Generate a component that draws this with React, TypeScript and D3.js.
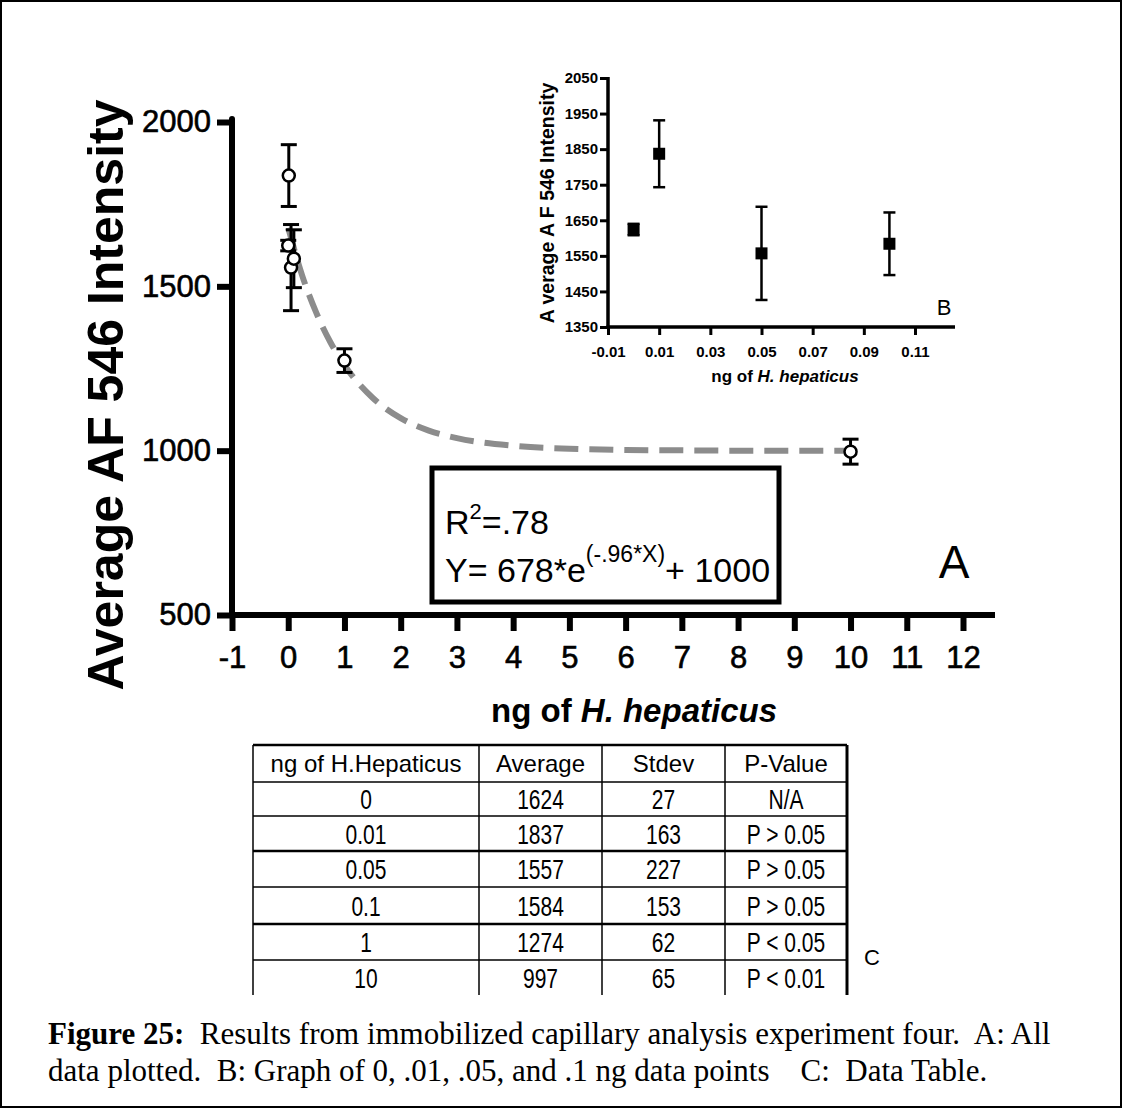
import React, { useEffect, useRef } from 'react';
import * as d3 from 'd3';

// table / data values
const doseLabels = ['0', '0.01', '0.05', '0.1', '1', '10'];
const doses = [0, 0.01, 0.05, 0.1, 1, 10];
const averages = [1624, 1837, 1557, 1584, 1274, 997];
const stdevs = [27, 163, 227, 153, 62, 65];
const pValues = ['N/A', 'P > 0.05', 'P > 0.05', 'P > 0.05', 'P < 0.05', 'P < 0.01'];
// half height of the plotted error bars
const errBars = [16, 94, 131, 88, 36, 38];

// fitted curve
const fitX = [0, 0.25, 0.5, 0.75, 1, 1.5, 2, 2.5, 3, 4, 5, 6, 7, 8, 10];
const fitY = [1678, 1532, 1419, 1330, 1260, 1161, 1099, 1061, 1038, 1015, 1006, 1002, 1001, 1000, 1000];

const mainXTicks = [-1, 0, 1, 2, 3, 4, 5, 6, 7, 8, 9, 10, 11, 12];
const mainYTicks = [500, 1000, 1500, 2000];
const insetXTicks = [-0.01, 0.01, 0.03, 0.05, 0.07, 0.09, 0.11];
const insetYTicks = [1350, 1450, 1550, 1650, 1750, 1850, 1950, 2050];

const tableHeader = ['ng of H.Hepaticus', 'Average', 'Stdev', 'P-Value'];

const SANS = '"Liberation Sans", Arial, sans-serif';
const SERIF = '"Liberation Serif", "Times New Roman", serif';

// plain hyphen for negatives, like the original
const hyphen = (f: (n: number) => string) => (d: any) => f(d).replace('\u2212', '-');

export default function App() {
  const ref = useRef<SVGSVGElement>(null);

  useEffect(() => {
    const svg = d3.select(ref.current);
    svg.selectAll('*').remove();

    svg.append('rect').attr('width', 1123).attr('height', 1108).attr('fill', '#fff');
    // outer frame
    svg.append('rect')
      .attr('x', 1).attr('y', 1).attr('width', 1120).attr('height', 1106)
      .attr('fill', 'none').attr('stroke', '#000').attr('stroke-width', 2);

    // ---------- main chart (A) ----------
    const x = d3.scaleLinear().domain([-1, 12]).range([232, 963]);
    const y = d3.scaleLinear().domain([500, 2000]).range([615, 122]);
    const main = svg.append('g');

    const gx = main.append('g').attr('transform', `translate(0,${y(500)})`)
      .call(d3.axisBottom(x).tickValues(mainXTicks).tickSize(16).tickPadding(15).tickFormat(hyphen(d3.format('d'))));
    gx.select('.domain').remove();
    gx.selectAll('line').attr('stroke', '#000').attr('stroke-width', 6);
    gx.selectAll('text').attr('font-size', 31).attr('font-family', SANS).attr('fill', '#000')
      .attr('stroke', '#000').attr('stroke-width', 0.6);

    const gy = main.append('g').attr('transform', `translate(${x(-1)},0)`)
      .call(d3.axisLeft(y).tickValues(mainYTicks).tickSize(15).tickPadding(6).tickFormat(d3.format('d')));
    gy.select('.domain').remove();
    gy.selectAll('line').attr('stroke', '#000').attr('stroke-width', 6);
    gy.selectAll('text').attr('font-size', 31).attr('font-family', SANS).attr('fill', '#000')
      .attr('stroke', '#000').attr('stroke-width', 0.6);

    main.append('line').attr('x1', x(-1) - 3).attr('x2', 995).attr('y1', y(500)).attr('y2', y(500))
      .attr('stroke', '#000').attr('stroke-width', 6);
    main.append('line').attr('x1', x(-1)).attr('x2', x(-1)).attr('y1', y(500)).attr('y2', y(2000) - 3)
      .attr('stroke', '#000').attr('stroke-width', 6).attr('stroke-linecap', 'round');

    // fit curve
    const fitLine = d3.line<number>().x((_, i) => x(fitX[i])).y(d => y(d)).curve(d3.curveMonotoneX);
    main.append('path').attr('d', fitLine(fitY))
      .attr('fill', 'none').attr('stroke', '#8c8c8c').attr('stroke-width', 6)
      .attr('stroke-dasharray', '24 11');

    // error bars + markers
    const eb = main.append('g').attr('stroke', '#000').attr('stroke-width', 3);
    doses.forEach((d, i) => {
      const cx = x(d);
      eb.append('line').attr('x1', cx).attr('x2', cx).attr('y1', y(averages[i] + errBars[i])).attr('y2', y(averages[i] - errBars[i]));
      [1, -1].forEach(s => {
        eb.append('line').attr('x1', cx - 8).attr('x2', cx + 8)
          .attr('y1', y(averages[i] + s * errBars[i])).attr('y2', y(averages[i] + s * errBars[i]));
      });
    });
    main.selectAll('circle.pt').data(doses).enter().append('circle')
      .attr('cx', d => x(d)).attr('cy', (_, i) => y(averages[i])).attr('r', 6)
      .attr('fill', '#fff').attr('stroke', '#000').attr('stroke-width', 2.5);

    // labels
    main.append('text').attr('transform', 'translate(123,395) rotate(-90)')
      .attr('text-anchor', 'middle').attr('font-family', SANS).attr('font-weight', 'bold').attr('font-size', 50)
      .text('Average AF 546 Intensity');
    const xl = main.append('text').attr('x', 634).attr('y', 722).attr('text-anchor', 'middle')
      .attr('font-family', SANS).attr('font-weight', 'bold').attr('font-size', 33);
    xl.append('tspan').text('ng of ');
    xl.append('tspan').attr('font-style', 'italic').text('H. hepaticus');

    main.append('text').attr('x', 954).attr('y', 578).attr('text-anchor', 'middle')
      .attr('font-family', SANS).attr('font-size', 46).text('A');

    // equation box
    main.append('rect').attr('x', 432).attr('y', 468).attr('width', 347).attr('height', 134)
      .attr('fill', '#fff').attr('stroke', '#000').attr('stroke-width', 5);
    const r2 = main.append('text').attr('x', 445).attr('y', 534).attr('font-family', SANS).attr('font-size', 34);
    r2.append('tspan').text('R');
    r2.append('tspan').attr('font-size', 22).attr('dy', -15).text('2');
    r2.append('tspan').attr('dy', 15).text('=.78');
    const eq = main.append('text').attr('x', 445).attr('y', 582).attr('font-family', SANS).attr('font-size', 34);
    eq.append('tspan').text('Y= 678*e');
    eq.append('tspan').attr('font-size', 23).attr('dy', -20).text('(-.96*X)');
    eq.append('tspan').attr('dy', 20).text('+ 1000');

    // ---------- inset chart (B) ----------
    const ix = d3.scaleLinear().domain([-0.01, 0.11]).range([608, 915]);
    const iy = d3.scaleLinear().domain([1350, 2050]).range([327, 78]);
    const inset = svg.append('g');

    const igx = inset.append('g').attr('transform', `translate(0,${iy(1350)})`)
      .call(d3.axisBottom(ix).tickValues(insetXTicks).tickSize(8).tickPadding(11).tickFormat(hyphen(d3.format('.2f'))));
    igx.select('.domain').remove();
    igx.selectAll('line').attr('stroke', '#000').attr('stroke-width', 3);
    igx.selectAll('text').attr('font-size', 15).attr('font-weight', 'bold').attr('font-family', SANS).attr('fill', '#000');

    const igy = inset.append('g').attr('transform', `translate(${ix(-0.01)},0)`)
      .call(d3.axisLeft(iy).tickValues(insetYTicks).tickSize(8).tickPadding(2).tickFormat(d3.format('d')));
    igy.select('.domain').remove();
    igy.selectAll('line').attr('stroke', '#000').attr('stroke-width', 3);
    igy.selectAll('text').attr('font-size', 15).attr('font-weight', 'bold').attr('font-family', SANS).attr('fill', '#000');

    inset.append('line').attr('x1', ix(-0.01) - 1.5).attr('x2', 955).attr('y1', iy(1350)).attr('y2', iy(1350))
      .attr('stroke', '#000').attr('stroke-width', 3.5);
    inset.append('line').attr('x1', ix(-0.01)).attr('x2', ix(-0.01)).attr('y1', iy(1350)).attr('y2', iy(2050) - 1)
      .attr('stroke', '#000').attr('stroke-width', 3.5);

    const ieb = inset.append('g').attr('stroke', '#000').attr('stroke-width', 2.5);
    doses.slice(0, 4).forEach((d, i) => {
      const cx = ix(d);
      ieb.append('line').attr('x1', cx).attr('x2', cx).attr('y1', iy(averages[i] + errBars[i])).attr('y2', iy(averages[i] - errBars[i]));
      [1, -1].forEach(s => {
        ieb.append('line').attr('x1', cx - 6).attr('x2', cx + 6)
          .attr('y1', iy(averages[i] + s * errBars[i])).attr('y2', iy(averages[i] + s * errBars[i]));
      });
    });
    inset.selectAll('rect.pt').data(doses.slice(0, 4)).enter().append('rect')
      .attr('x', d => ix(d) - 6).attr('y', (_, i) => iy(averages[i]) - 6)
      .attr('width', 12).attr('height', 12).attr('fill', '#000');

    inset.append('text').attr('transform', 'translate(554,203) rotate(-90)')
      .attr('text-anchor', 'middle').attr('font-family', SANS).attr('font-weight', 'bold').attr('font-size', 19.5)
      .text('A verage A F 546 Intensity');
    const ixl = inset.append('text').attr('x', 785).attr('y', 382).attr('text-anchor', 'middle')
      .attr('font-family', SANS).attr('font-weight', 'bold').attr('font-size', 17);
    ixl.append('tspan').text('ng of ');
    ixl.append('tspan').attr('font-style', 'italic').text('H. hepaticus');
    inset.append('text').attr('x', 944).attr('y', 315).attr('text-anchor', 'middle')
      .attr('font-family', SANS).attr('font-size', 22).text('B');

    // ---------- table (C) ----------
    const colX = [253, 479, 602, 725, 847];
    const rowY = [745, 782, 816, 851, 887, 924, 960, 995];
    const tbl = svg.append('g');
    rowY.slice(0, 7).forEach((ry, i) => {
      tbl.append('line').attr('x1', colX[0]).attr('x2', colX[4]).attr('y1', ry).attr('y2', ry)
        .attr('stroke', '#000').attr('stroke-width', i === 0 || i === 3 || i === 5 ? 2.5 : 1.5);
    });
    colX.forEach((cx, i) => {
      tbl.append('line').attr('x1', cx).attr('x2', cx).attr('y1', rowY[0]).attr('y2', rowY[7])
        .attr('stroke', '#000').attr('stroke-width', i === 4 ? 3 : 1.5);
    });
    const colMid = colX.slice(0, 4).map((c, i) => (c + colX[i + 1]) / 2);
    tableHeader.forEach((h, j) => {
      tbl.append('text').attr('x', colMid[j]).attr('y', rowY[0] + 27).attr('text-anchor', 'middle')
        .attr('font-family', SANS).attr('font-size', 24).text(h);
    });
    const rows = doseLabels.map((d, i) => [d, String(averages[i]), String(stdevs[i]), pValues[i]]);
    rows.forEach((r, i) => {
      const base = (rowY[i + 1] + rowY[i + 2]) / 2 + 10;
      r.forEach((cell, j) => {
        tbl.append('text').attr('transform', `translate(${colMid[j]},${base}) scale(0.75,1)`)
          .attr('text-anchor', 'middle').attr('font-family', SANS).attr('font-size', 28).text(cell);
      });
    });
    tbl.append('text').attr('x', 872).attr('y', 965).attr('text-anchor', 'middle')
      .attr('font-family', SANS).attr('font-size', 22).text('C');

    // ---------- caption ----------
    const c1 = svg.append('text').attr('x', 48).attr('y', 1044).attr('font-family', SERIF).attr('font-size', 31)
      .style('white-space', 'pre');
    c1.append('tspan').attr('font-weight', 'bold').text('Figure 25:');
    c1.append('tspan').text('  Results from immobilized capillary analysis experiment four.  A: All');
    svg.append('text').attr('x', 48).attr('y', 1081).attr('font-family', SERIF).attr('font-size', 31)
      .style('white-space', 'pre')
      .text('data plotted.  B: Graph of 0, .01, .05, and .1 ng data points    C:  Data Table.');
  }, []);

  return (
    <svg ref={ref} width={1123} height={1108} style={{ position: 'absolute', left: 0, top: 0 }} />
  );
}
